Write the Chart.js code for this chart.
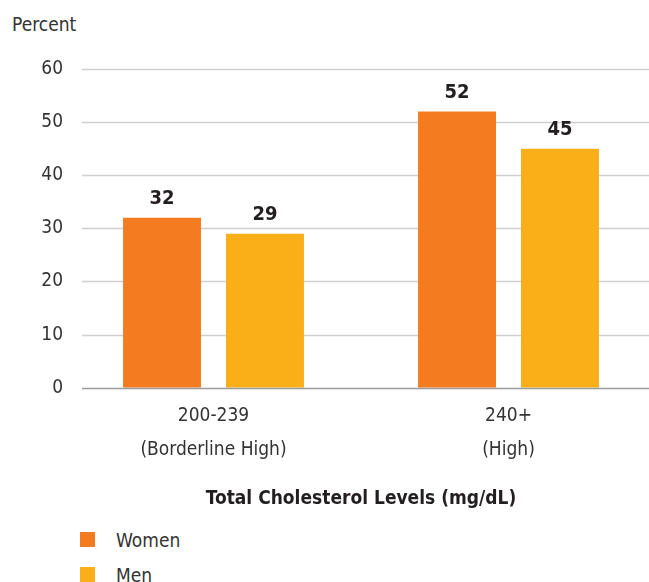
<!DOCTYPE html>
<html>
<head>
<meta charset="utf-8">
<script src="https://cdn.jsdelivr.net/npm/chart.js@4.4.1/dist/chart.umd.min.js"></script>
<style>
  html, body { margin: 0; padding: 0; background: #fff; width: 649px; height: 582px; overflow: hidden; }
  #wrap { position: absolute; left: 0; top: 0; width: 656px; height: 510px; }
  #ylabel { position: absolute; left: 12px; top: 13px; font-family: 'Liberation Sans Narrow', 'DejaVu Sans Condensed', Roboto, sans-serif; font-size: 19px; color: #333; }
  #legend { position: absolute; left: 80px; top: 522px; font-family: 'Liberation Sans Narrow', 'DejaVu Sans Condensed', Roboto, sans-serif; font-size: 19px; color: #333; }
  .item { display: flex; align-items: center; height: 35px; }
  .sw { width: 15px; height: 15px; margin-right: 21px; }
</style>
</head>
<body>
<div id="ylabel">Percent</div>
<div id="wrap"><canvas id="chart"></canvas></div>
<div id="legend"></div>
<script>
const FONT = "'Liberation Sans Narrow', 'DejaVu Sans Condensed', Roboto, sans-serif";

// data
const categories = [['200-239', '(Borderline High)'], ['240+', '(High)']];
const seriesNames = ['Women', 'Men'];
const women = [32, 52];
const men = [29, 45];
const yTicks = [0, 10, 20, 30, 40, 50, 60];
const colors = ['#F47B20', '#FAAF18'];
const xTitle = 'Total Cholesterol Levels (mg/dL)';

// gridlines start a bit right of the tick labels, like the original
const gridLines = {
    id: 'gridLines',
    beforeDatasetsDraw(chart) {
        const { ctx, chartArea, scales: { y } } = chart;
        ctx.save();
        y.ticks.forEach(t => {
            if (t.value === 0) return;
            const py = Math.round(y.getPixelForValue(t.value)) + 0.5;
            ctx.strokeStyle = '#cfcfcf';
            ctx.lineWidth = 1.5;
            ctx.beginPath();
            ctx.moveTo(chartArea.left + 16, py);
            ctx.lineTo(chart.width, py);
            ctx.stroke();
        });
        ctx.restore();
    },
    afterDatasetsDraw(chart) {
        const { ctx, chartArea, scales: { y } } = chart;
        const py = Math.round(y.getPixelForValue(0)) + 0.5;
        ctx.save();
        ctx.strokeStyle = '#9a9a9a';
        ctx.lineWidth = 1.5;
        ctx.beginPath();
        ctx.moveTo(chartArea.left + 16, py);
        ctx.lineTo(chart.width, py);
        ctx.stroke();
        ctx.restore();
    }
};

const valueLabels = {
    id: 'valueLabels',
    afterDatasetsDraw(chart) {
        const ctx = chart.ctx;
        ctx.save();
        ctx.font = 'bold 20px ' + FONT;
        ctx.fillStyle = '#231F20';
        ctx.textAlign = 'center';
        ctx.textBaseline = 'bottom';
        chart.data.datasets.forEach((ds, i) => {
            chart.getDatasetMeta(i).data.forEach((bar, j) => {
                ctx.fillText(ds.data[j], bar.x, bar.y - 9);
            });
        });
        ctx.restore();
    }
};

const ctx = document.getElementById('chart').getContext('2d');
const chart = new Chart(ctx, {
    type: 'bar',
    data: {
        labels: categories,
        datasets: [
            { label: seriesNames[0], data: women, backgroundColor: colors[0] },
            { label: seriesNames[1], data: men, backgroundColor: colors[1] }
        ]
    },
    options: {
        responsive: true,
        maintainAspectRatio: false,
        animation: false,
        categoryPercentage: 0.698,
        barPercentage: 0.757,
        layout: { padding: { left: 12, top: 69, right: 0, bottom: 0 } },
        plugins: {
            legend: { display: false },
            tooltip: { enabled: false }
        },
        scales: {
            x: {
                grid: { display: false, drawTicks: false },
                border: { display: false },
                ticks: { color: '#333', font: { family: FONT, size: 19, lineHeight: 1.75 }, padding: 12 },
                title: { display: true, text: xTitle, color: '#231F20', font: { family: FONT, size: 19, weight: 'bold' }, padding: { top: 9, bottom: 0 } }
            },
            y: {
                min: 0,
                max: 60,
                afterBuildTicks: s => { s.ticks = yTicks.map(v => ({ value: v })); },
                afterFit: s => { s.width = 54; },
                grid: { display: false, drawTicks: false },
                border: { display: false },
                ticks: { color: '#333', font: { family: FONT, size: 19 }, padding: 3 }
            }
        }
    },
    plugins: [gridLines, valueLabels]
});

// legend
const legend = document.getElementById('legend');
seriesNames.forEach((name, i) => {
    const item = document.createElement('div');
    item.className = 'item';
    item.innerHTML = `<span class="sw" style="background:${colors[i]}"></span><span>${name}</span>`;
    legend.appendChild(item);
});
</script>
</body>
</html>
